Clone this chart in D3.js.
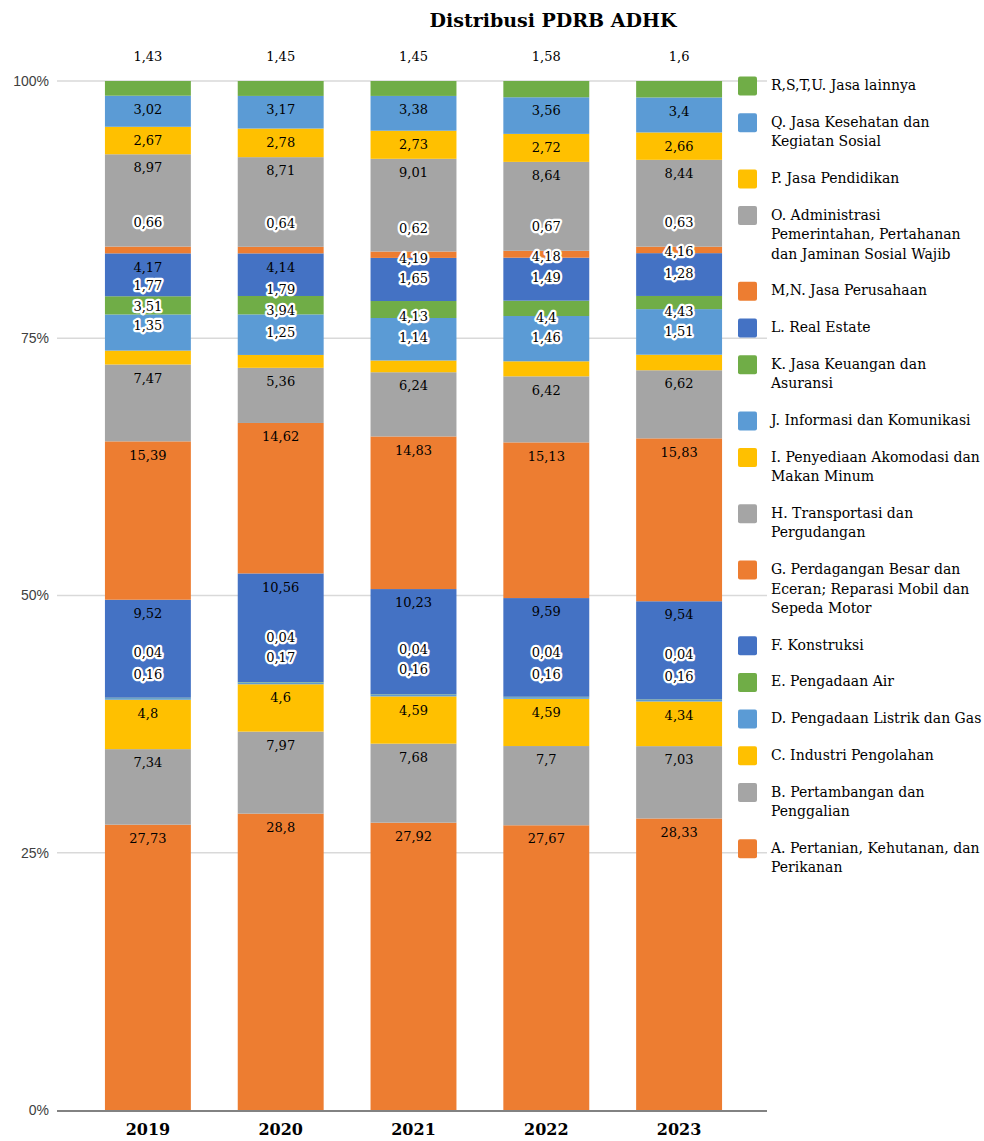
<!DOCTYPE html>
<html>
<head>
<meta charset="utf-8">
<script src="https://cdn.jsdelivr.net/npm/d3@7"></script>
<style>
  body { margin: 0; background: #fff; }
  svg { display: block; }
</style>
</head>
<body>
<svg id="chart" width="984" height="1141"></svg>
<script>
// Distribusi PDRB ADHK per lapangan usaha (persen), stacked A (bottom) .. R,S,T,U (top)
const years = ["2019", "2020", "2021", "2022", "2023"];
const sectorCodes = ["A", "B", "C", "D", "E", "F", "G", "H", "I", "J", "K", "L", "MN", "O", "P", "Q", "R"];
const sectorNames = [
  "A. Pertanian, Kehutanan, dan|Perikanan",
  "B. Pertambangan dan|Penggalian",
  "C. Industri Pengolahan",
  "D. Pengadaan Listrik dan Gas",
  "E. Pengadaan Air",
  "F. Konstruksi",
  "G. Perdagangan Besar dan|Eceran; Reparasi Mobil dan|Sepeda Motor",
  "H. Transportasi dan|Pergudangan",
  "I. Penyediaan Akomodasi dan|Makan Minum",
  "J. Informasi dan Komunikasi",
  "K. Jasa Keuangan dan|Asuransi",
  "L. Real Estate",
  "M,N. Jasa Perusahaan",
  "O. Administrasi|Pemerintahan, Pertahanan|dan Jaminan Sosial Wajib",
  "P. Jasa Pendidikan",
  "Q. Jasa Kesehatan dan|Kegiatan Sosial",
  "R,S,T,U. Jasa lainnya"
];
const pdrb2019 = [27.73, 7.34, 4.8, 0.16, 0.04, 9.52, 15.39, 7.47, 1.35, 3.51, 1.77, 4.17, 0.66, 8.97, 2.67, 3.02, 1.43];
const pdrb2020 = [28.8, 7.97, 4.6, 0.17, 0.04, 10.56, 14.62, 5.36, 1.25, 3.94, 1.79, 4.14, 0.64, 8.71, 2.78, 3.17, 1.45];
const pdrb2021 = [27.92, 7.68, 4.59, 0.16, 0.04, 10.23, 14.83, 6.24, 1.14, 4.13, 1.65, 4.19, 0.62, 9.01, 2.73, 3.38, 1.45];
const pdrb2022 = [27.67, 7.7, 4.59, 0.16, 0.04, 9.59, 15.13, 6.42, 1.46, 4.4, 1.49, 4.18, 0.67, 8.64, 2.72, 3.56, 1.58];
const pdrb2023 = [28.33, 7.03, 4.34, 0.16, 0.04, 9.54, 15.83, 6.62, 1.51, 4.43, 1.28, 4.16, 0.63, 8.44, 2.66, 3.4, 1.6];
const yTicks = [0, 0.25, 0.5, 0.75, 1];

// ---- styling / layout ----
const palette = ["#ED7D31", "#A5A5A5", "#FFC000", "#5B9BD5", "#70AD47", "#4472C4"];
const sectorColor = code => palette[sectorCodes.indexOf(code) % palette.length];
const serif = "'DejaVu Serif', 'Liberation Serif', serif";
const sans = "'Liberation Sans', Arial, sans-serif";

// Hand-placed label offsets (px from segment top to label centre) for thin segments
const labelNudge = {
  R:  [-24.5, -24.5, -24.5, -24.5, -24.5],
  MN: [-24, -23, -23, -24, -24],
  L:  [null, null, 0, -1, -2],
  K:  [-11, -7, -23, -23, -23],
  J:  [-8, -4, -2, 1, 2],
  I:  [-25, -23, -23, -24, -23],
  E:  [-45, -45, -45, -44, -45],
  D:  [-24, -25, -25, -23, -24]
};

const yearValues = [pdrb2019, pdrb2020, pdrb2021, pdrb2022, pdrb2023];
const table = years.map((yr, i) => {
  const row = { year: yr };
  sectorCodes.forEach((c, j) => { row[c] = yearValues[i][j]; });
  return row;
});

const svg = d3.select("#chart");
const plotLeft = 57, plotRight = 767;
const x = d3.scaleBand().domain(years).range([81.5, 745.5]).paddingInner(0.353).paddingOuter(0.1765);
const y = d3.scaleLinear().domain([0, 1]).range([1110, 81]);

const series = d3.stack().keys(sectorCodes).offset(d3.stackOffsetExpand)(table);

// title
svg.append("text")
  .attr("x", 553).attr("y", 27)
  .attr("text-anchor", "middle")
  .style("font-family", serif).style("font-weight", "bold").style("font-size", "19px")
  .attr("fill", "#000")
  .text("Distribusi PDRB ADHK");

// gridlines
svg.append("g").selectAll("line")
  .data(yTicks.filter(t => t > 0))
  .join("line")
  .attr("x1", plotLeft).attr("x2", plotRight)
  .attr("y1", d => y(d)).attr("y2", d => y(d))
  .attr("stroke", "#D9D9D9").attr("stroke-width", 1.5);

// y axis labels
const yAxis = svg.append("g").attr("transform", `translate(${plotLeft},0)`)
  .call(d3.axisLeft(y).tickValues(yTicks).tickFormat(d3.format(".0%")).tickSize(0).tickPadding(8));
yAxis.select(".domain").remove();
yAxis.selectAll("text")
  .style("font-family", sans).style("font-size", "14px").attr("fill", "#404040");

// bars
const layers = svg.append("g").selectAll("g")
  .data(series)
  .join("g")
  .attr("fill", d => sectorColor(d.key));
layers.selectAll("rect")
  .data(d => d.map(p => ({ p, key: d.key })))
  .join("rect")
  .attr("x", d => x(d.p.data.year))
  .attr("width", x.bandwidth())
  .attr("y", d => y(d.p[1]))
  .attr("height", d => Math.max(0, y(d.p[0]) - y(d.p[1])));

// x axis
const xAxis = svg.append("g").attr("transform", `translate(0,${y(0)})`)
  .call(d3.axisBottom(x).tickSize(0).tickPadding(14));
xAxis.select(".domain").remove();
svg.append("line")
  .attr("x1", plotLeft).attr("x2", plotRight)
  .attr("y1", y(0) + 1).attr("y2", y(0) + 1)
  .attr("stroke", "#595959").attr("stroke-width", 1.5);
xAxis.selectAll("text")
  .style("font-family", serif).style("font-size", "16px").style("font-weight", "bold")
  .attr("fill", "#000");

// data labels
const fmt = v => String(v).replace(".", ",");
const labels = [];
series.forEach(s => {
  s.forEach((p, i) => {
    const top = y(p[1]);
    const nudge = labelNudge[s.key] ? labelNudge[s.key][i] : null;
    const cy = nudge === null ? top + 13.5 : top + nudge;
    labels.push({
      x: x(p.data.year) + x.bandwidth() / 2,
      y: cy,
      text: fmt(p.data[s.key]),
      halo: nudge !== null && s.key !== "R"
    });
  });
});
svg.append("g").selectAll("text")
  .data(labels)
  .join("text")
  .attr("x", d => d.x).attr("y", d => d.y)
  .attr("dy", "0.36em")
  .attr("text-anchor", "middle")
  .style("font-family", serif).style("font-size", "13px")
  .attr("fill", "#000")
  .attr("stroke", d => d.halo ? "#fff" : "none")
  .attr("stroke-width", d => d.halo ? 4.5 : 0)
  .attr("stroke-linejoin", "round")
  .attr("paint-order", "stroke")
  .text(d => d.text);

// legend (top item = last stacked series)
const lineH = 19.5, itemGap = 17.2;
const legend = svg.append("g");
let ly = 85;
sectorCodes.slice().reverse().forEach(code => {
  const idx = sectorCodes.indexOf(code);
  const lines = sectorNames[idx].split("|");
  const g = legend.append("g");
  g.append("rect")
    .attr("x", 738).attr("y", ly - 8.5)
    .attr("width", 19).attr("height", 19).attr("rx", 2)
    .attr("fill", sectorColor(code));
  const t = g.append("text")
    .attr("x", 771).attr("y", ly)
    .style("font-family", serif).style("font-size", "14px")
    .attr("fill", "#000");
  lines.forEach((ln, k) => {
    t.append("tspan").attr("x", 771).attr("dy", k === 0 ? "0.36em" : lineH).text(ln);
  });
  ly += lines.length * lineH + itemGap;
});
</script>
</body>
</html>
